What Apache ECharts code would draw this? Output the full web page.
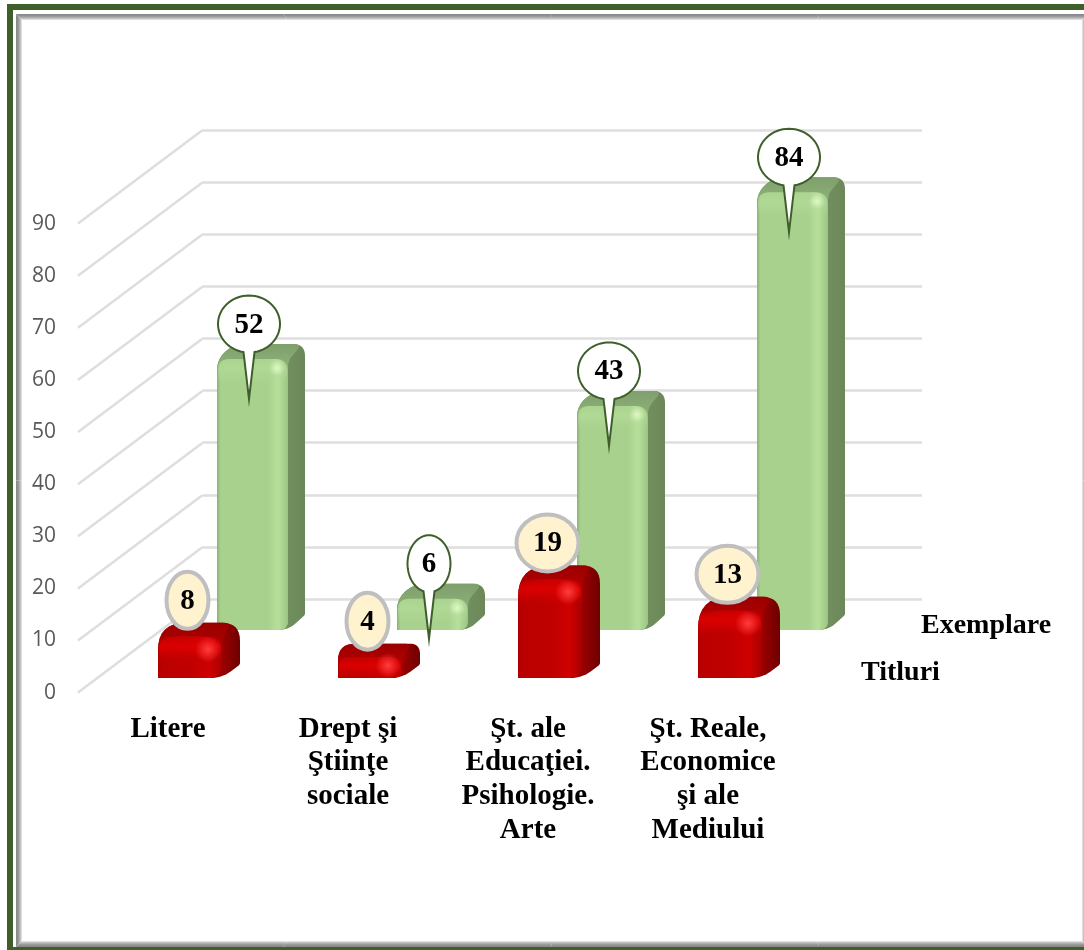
<!DOCTYPE html>
<html>
<head>
<meta charset="utf-8">
<title>Titluri si exemplare</title>
<script src="https://cdn.jsdelivr.net/npm/echarts@6/dist/echarts.min.js"></script>
<style>
  html, body { margin: 0; padding: 0; background: #fff; }
  #mainChart { width: 1084px; height: 950px; }
</style>
</head>
<body>
<div id="mainChart"></div>
<script>
var categories = ['Litere', 'Drept şi\nŞtiinţe\nsociale', 'Şt. ale\nEducaţiei.\nPsihologie.\nArte', 'Şt. Reale,\nEconomice\nşi ale\nMediului'];
var titluri = [8, 4, 19, 13];
var exemplare = [52, 6, 43, 84];
var yTicks = [0, 10, 20, 30, 40, 50, 60, 70, 80, 90];
var seriesNames = ['Exemplare', 'Titluri'];

var LABEL_FONT = 'bold 29px "Liberation Serif"';
var SIDE_FONT = 'bold 28px "Liberation Serif"';
// front floor edge -> back wall
var DEPTH_X = 124, DEPTH_Y = -93;

var redStyle = {
  left: -10, right: 54, lift: 14.6, dx: 18, dy: -13.5, radius: 18, frontR: 27, cornerTL: 32, cornerTR: 18,
  sideA: '#9c0000', sideB: '#6e0000', topA: '#9a0000', topB: '#c80000',
  front: [[0, '#ad0000'], [0.06, '#bb0000'], [0.5, '#c00000'], [0.8, '#cf0000'], [1, '#a80000']],
  band: 'rgba(222,0,0,', bandAlpha: 0.9, glow: 'rgba(255,60,60,', glowR: 13, glowX: 14, glowY: 13
};
var greenStyle = {
  left: 49, right: 120, lift: 62.6, dx: 17, dy: -15, radius: 12, frontR: 13, cornerTL: 0, cornerTR: 12,
  sideA: '#71905e', sideB: '#6c8759', topA: '#7f9f6c', topB: '#98bd80',
  front: [[0, '#8cb076'], [0.05, '#a9d18e'], [0.72, '#a9d18e'], [0.86, '#b6e09a'], [1, '#9dc384']],
  band: 'rgba(180,222,155,', bandAlpha: 0.6, glow: 'rgba(222,248,196,', glowR: 8, glowX: 11, glowY: 9
};

// polygon with rounded corners, sampled
function roundPts(pts, rs) {
  var out = [];
  for (var i = 0; i < pts.length; i++) {
    var p = pts[i], a = pts[(i + pts.length - 1) % pts.length], b = pts[(i + 1) % pts.length];
    var d1 = Math.hypot(a[0] - p[0], a[1] - p[1]), d2 = Math.hypot(b[0] - p[0], b[1] - p[1]);
    var r = Math.min(rs[i], d1 / 2, d2 / 2);
    if (r <= 0) { out.push(p); continue; }
    var s = [p[0] + (a[0] - p[0]) * r / d1, p[1] + (a[1] - p[1]) * r / d1];
    var e = [p[0] + (b[0] - p[0]) * r / d2, p[1] + (b[1] - p[1]) * r / d2];
    for (var k = 0; k <= 8; k++) {
      var t = k / 8, u = 1 - t;
      out.push([u * u * s[0] + 2 * u * t * p[0] + t * t * e[0], u * u * s[1] + 2 * u * t * p[1] + t * t * e[1]]);
    }
  }
  return out;
}

function poly(points, fill) {
  return { type: 'polygon', silent: true, shape: { points: points }, style: { fill: fill } };
}

function bar3d(api, st) {
  var c0 = api.coord([api.value(0), 0]), c1 = api.coord([api.value(0), api.value(1)]);
  var h = c0[1] - c1[1];
  var xL = c0[0] + st.left, xR = c0[0] + st.right;
  var yB = c0[1] - st.lift, yT = yB - h;
  var dx = st.dx, dy = st.dy, r = st.radius, fr = st.frontR;
  var bandH = Math.min(h, 24);
  var glowR = Math.min(h * 0.6, st.glowR);
  var f = (xR - xL) / (xR + dx - xL);
  // red blocks read as one big curve at the back left, green ones keep the chamfer
  var outline, outlineR, topPts, topR;
  if (st.cornerTL) {
    outline = [[xL, yB], [xL, yT + dy], [xR + dx, yT + dy], [xR + dx, yB + dy], [xR, yB]];
    outlineR = [0, st.cornerTL, st.cornerTR, 2, r * 0.8];
    topPts = [[xL, yB], [xL, yT + dy], [xR + dx - 8, yT + dy], [xR, yT + 2], [xR, yB]];
    topR = [0, st.cornerTL, 8, r * 0.5, r * 0.8];
  } else {
    outline = [[xL, yB], [xL, yT], [xL + dx, yT + dy], [xR + dx, yT + dy], [xR + dx, yB + dy], [xR, yB]];
    outlineR = [0, r, r, st.cornerTR, 2, r * 0.8];
    topPts = [[xL, yB], [xL, yT], [xL + dx, yT + dy], [xR + dx - 3, yT + dy], [xR, yT + 2], [xR, yB]];
    topR = [0, r, r, 8, r * 0.5, r * 0.8];
  }
  return [
    poly(roundPts(outline, outlineR), new echarts.graphic.LinearGradient(0, 0, 1, 0, [
      { offset: 0, color: st.sideA }, { offset: f, color: st.sideA }, { offset: 1, color: st.sideB }
    ])),
    // top face, fades into the front
    poly(roundPts(topPts, topR), new echarts.graphic.LinearGradient(0, 0, 0, h > 60 ? 40 / (h - dy) : 1, [
      { offset: 0, color: st.topA }, { offset: 1, color: st.topB }
    ])),
    // front face
    poly(roundPts([[xL, yB], [xL, yT], [xR, yT], [xR, yB]], [0, fr, fr, r * 0.8]),
      new echarts.graphic.LinearGradient(0, 0, 1, 0, st.front.map(function (s) { return { offset: s[0], color: s[1] }; }))),
    // lit band under the top edge
    poly(roundPts([[xL + 1, yT + bandH], [xL + 1, yT], [xR - 1, yT], [xR - 1, yT + bandH]], [0, fr, fr, 0]),
      new echarts.graphic.LinearGradient(0, 0, 0, 1, [
        { offset: 0, color: st.band + '0.2)' }, { offset: 0.4, color: st.band + st.bandAlpha + ')' }, { offset: 1, color: st.band + '0)' }
      ])),
    {
      type: 'circle', silent: true,
      shape: { cx: xR - st.glowX, cy: yT + Math.min(h * 0.4, st.glowY), r: glowR },
      style: {
        fill: new echarts.graphic.RadialGradient(0.5, 0.5, 0.5, [
          { offset: 0, color: st.glow + '1)' }, { offset: 1, color: st.glow + '0)' }
        ])
      }
    }
  ];
}

function valueText(x, y, v) {
  return {
    type: 'text', silent: true,
    style: { x: x, y: y, text: String(v), font: LABEL_FONT, fill: '#000', align: 'center', verticalAlign: 'middle' }
  };
}

// green series: white callout with a long thin tail
function renderExemplare(params, api) {
  var st = greenStyle;
  var kids = bar3d(api, st);
  var v = api.value(1);
  var c0 = api.coord([api.value(0), 0]), c1 = api.coord([api.value(0), v]);
  var cx = c0[0] + 81;
  var frontTop = c1[1] - st.lift;
  var cy = frontTop - 35;
  var rx = v < 10 ? 21.5 : 31, ry = 28.5;
  var pts = [];
  // ellipse from just right of the tail round to just left of it
  var gap = 5.5 / rx;
  var a0 = Math.PI / 2 - Math.asin(gap), a1 = -(3 * Math.PI / 2) + Math.asin(gap);
  for (var k = 0; k <= 60; k++) {
    var a = a0 + (a1 - a0) * k / 60;
    pts.push([cx + rx * Math.cos(a), cy + ry * Math.sin(a)]);
  }
  pts.push([cx, frontTop + 40]);
  kids.push({ type: 'polygon', silent: true, shape: { points: pts }, style: { fill: '#fff', stroke: '#3f5f2a', lineWidth: 2 } });
  kids.push(valueText(cx, cy + 1, v));
  return { type: 'group', children: kids };
}

// red series: cream oval with a grey ring
function renderTitluri(params, api) {
  var st = redStyle;
  var kids = bar3d(api, st);
  var v = api.value(1);
  var c0 = api.coord([api.value(0), 0]), c1 = api.coord([api.value(0), v]);
  var cx = c0[0] + 19.5;
  var cy = c1[1] - st.lift + st.dy - 22.5;
  kids.push({
    type: 'ellipse', silent: true,
    shape: { cx: cx, cy: cy, rx: v < 10 ? 21 : 31, ry: 28.5 },
    style: { fill: '#fff2cf', stroke: '#bfbfbf', lineWidth: 4 }
  });
  kids.push(valueText(cx, cy + 1, v));
  return { type: 'group', children: kids };
}

// floor-to-wall lines for each tick
function renderDepth(params, api) {
  var c = api.coord([0, api.value(1)]);
  var x0 = params.coordSys.x;
  return {
    type: 'line', silent: true,
    shape: { x1: x0, y1: c[1], x2: x0 + DEPTH_X, y2: c[1] + DEPTH_Y },
    style: { stroke: '#dedede', lineWidth: 2.5 }
  };
}

function pairs(list) {
  return list.map(function (v, i) { return [i, v]; });
}

var frame = [
  { type: 'rect', silent: true, shape: { x: 10, y: 7, width: 1100, height: 943 }, style: { fill: 'none', stroke: '#3f5f2a', lineWidth: 6 } }
];
['#8a8a8a', '#8f8f8f', '#9c9c9c', '#adadad', '#c4c4c4', '#dedede'].forEach(function (c, i) {
  frame.push({
    type: 'rect', silent: true,
    shape: { x: 16.5 + i, y: 14.5 + i, width: 1071 - 2 * i, height: 932 - 2 * i },
    style: { fill: 'none', stroke: c, lineWidth: 1 }
  });
});
frame.push({
  type: 'text', silent: true, x: 921, y: 626,
  style: { text: seriesNames[0], font: SIDE_FONT, fill: '#000', verticalAlign: 'middle' }
});
frame.push({
  type: 'text', silent: true, x: 861, y: 673,
  style: { text: seriesNames[1], font: SIDE_FONT, fill: '#000', verticalAlign: 'middle' }
});

var myChart = echarts.init(document.getElementById('mainChart'), null, { renderer: 'canvas' });
var option = {
  backgroundColor: '#fff',
  animation: false,
  graphic: frame,
  grid: [
    { left: 78, top: 223.6, width: 720, height: 469 },
    { left: 202, top: 130, width: 720, height: 469 }
  ],
  xAxis: [
    {
      type: 'category', gridIndex: 0, data: categories,
      axisLine: { show: false }, axisTick: { show: false },
      axisLabel: { interval: 0, margin: 20, color: '#000', fontFamily: 'Liberation Serif', fontWeight: 'bold', fontSize: 29, lineHeight: 33.6 }
    },
    { type: 'category', gridIndex: 1, data: categories, show: false }
  ],
  yAxis: [
    {
      type: 'value', gridIndex: 0, min: yTicks[0], max: yTicks[yTicks.length - 1], interval: 10,
      axisLine: { show: false }, axisTick: { show: false }, splitLine: { show: false },
      axisLabel: { margin: 22, color: '#595959', fontFamily: 'Open Sans', fontSize: 21 }
    },
    {
      type: 'value', gridIndex: 1, min: yTicks[0], max: yTicks[yTicks.length - 1], interval: 10,
      axisLine: { show: false }, axisTick: { show: false }, axisLabel: { show: false },
      splitLine: { lineStyle: { color: '#dedede', width: 2.5 } }
    }
  ],
  series: [
    { type: 'custom', name: 'depth', xAxisIndex: 0, yAxisIndex: 0, clip: false, renderItem: renderDepth, data: pairs(yTicks), z: 1 },
    { type: 'custom', name: seriesNames[0], xAxisIndex: 0, yAxisIndex: 0, clip: false, renderItem: renderExemplare, data: pairs(exemplare), z: 2 },
    { type: 'custom', name: seriesNames[1], xAxisIndex: 0, yAxisIndex: 0, clip: false, renderItem: renderTitluri, data: pairs(titluri), z: 3 }
  ]
};
myChart.setOption(option);
</script>
</body>
</html>
